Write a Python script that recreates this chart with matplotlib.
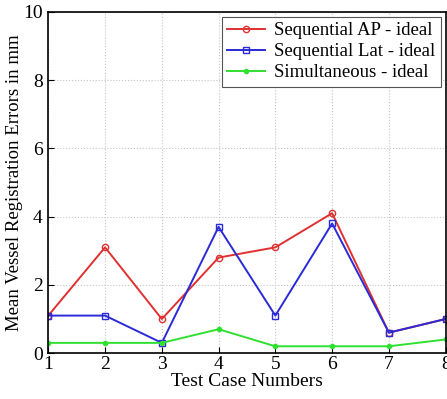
import matplotlib.pyplot as plt
import numpy as np

plt.rcParams['font.family'] = ['Liberation Serif', 'DejaVu Serif']

cases = [1, 2, 3, 4, 5, 6, 7, 8]
seq_ap = [1.1, 3.1, 1.0, 2.8, 3.1, 4.1, 0.6, 1.0]
seq_lat = [1.1, 1.1, 0.3, 3.7, 1.1, 3.8, 0.6, 1.0]
simult = [0.3, 0.3, 0.3, 0.7, 0.2, 0.2, 0.2, 0.4]
labels = ['Sequential AP - ideal', 'Sequential Lat - ideal', 'Simultaneous - ideal']

fig = plt.figure(figsize=(4.47, 3.99), dpi=100)
ax = fig.add_axes([0.108, 0.115, 0.889, 0.855])

ax.plot(cases, seq_ap, color='#e03030', marker='o', markersize=4.5,
        markerfacecolor='none', lw=1.4, label=labels[0])
ax.plot(cases, seq_lat, color='#2a2ad8', marker='s', markersize=4.5,
        markerfacecolor='none', lw=1.4, label=labels[1])
ax.plot(cases, simult, color='#30e030', marker='.', markersize=6,
        lw=1.4, label=labels[2])

ax.set_xlim(1, 8)
ax.set_ylim(0, 10)
ax.set_xticks(cases)
ax.set_yticks(np.arange(0, 11, 2))
ax.grid(True, color='#c4c4c4', linestyle=':', linewidth=0.8)
ax.tick_params(direction='in', labelsize=14, length=4, pad=2)
ax.tick_params(axis='y', pad=4)
ax.set_xlabel('Test Case Numbers', fontsize=14, labelpad=0)
ax.set_ylabel('Mean Vessel Registration Errors in mm', fontsize=13.5, labelpad=0)
for s in ax.spines.values():
    s.set_linewidth(1.2)

leg = ax.legend(loc='upper right', fontsize=13.5, fancybox=False,
                edgecolor='#555555', framealpha=1, borderpad=0.3,
                labelspacing=0.2, handlelength=2.0, handletextpad=0.5,
                borderaxespad=0.25)
leg.get_frame().set_linewidth(0.8)

fig.savefig('out.png', dpi=100)
